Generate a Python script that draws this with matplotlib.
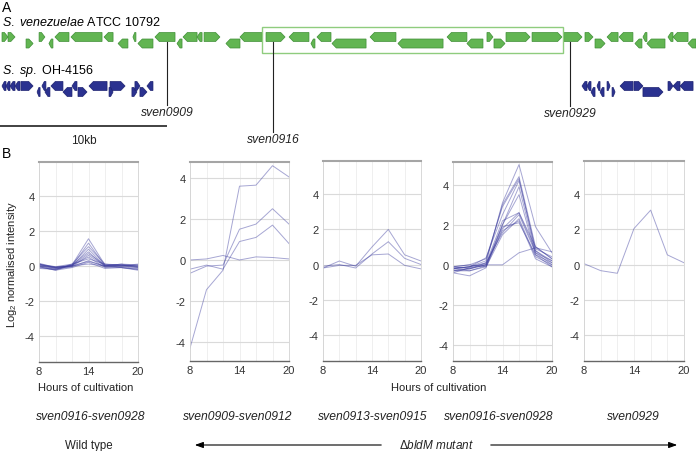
import matplotlib
matplotlib.use("Agg")
import matplotlib.pyplot as plt
from matplotlib.patches import Polygon, Rectangle
import numpy as np

plt.rcParams["font.family"] = ["Liberation Sans", "DejaVu Sans"]
plt.rcParams["mathtext.fontset"] = "custom"
plt.rcParams["mathtext.rm"] = "Liberation Sans"
plt.rcParams["mathtext.it"] = "Liberation Sans:italic"

# ---------------- data ----------------
# gene map, positions in kb
green_start = [0.12, 0.48, 1.56, 2.34, 2.93, 3.29, 4.25, 6.23, 7.07, 7.96, 8.26, 9.28, 10.60, 10.96,
               11.80, 12.22, 13.53, 14.37, 15.93, 17.31, 18.62, 18.98, 19.88, 22.16, 23.83, 26.77,
               27.96, 29.16, 29.58, 30.30, 31.86, 33.77, 35.03, 35.63, 36.35, 37.07, 38.02, 38.50,
               38.74, 40.00, 40.30, 41.20]
green_end = [0.48, 0.90, 1.98, 2.69, 3.17, 4.13, 6.11, 6.77, 7.66, 8.14, 9.16, 10.48, 10.90, 11.80,
             12.10, 13.17, 14.37, 15.69, 17.07, 18.50, 18.86, 19.82, 21.92, 23.71, 26.53, 27.96,
             28.92, 29.52, 30.24, 31.74, 33.65, 34.85, 35.51, 36.23, 37.01, 37.90, 38.44, 38.74,
             39.82, 40.30, 41.20, 41.68]
green_strand = [1, 1, 1, 1, -1, -1, -1, -1, -1, -1, -1, -1, -1, -1,
                -1, 1, -1, -1, 1, -1, -1, -1, -1, -1, -1, -1,
                -1, 1, 1, 1, 1, 1, 1, 1, -1, -1, -1, -1,
                -1, -1, -1, -1]
green_row = [0, 0, 1, 0, 1, 0, 0, 0, 1, 0, 1, 0, 1, 0,
             0, 0, 1, 0, 0, 0, 1, 0, 1, 0, 1, 0,
             1, 0, 1, 0, 0, 0, 0, 1, 0, 0, 1, 0,
             1, 0, 0, 1]

blue_start = [0.12, 0.36, 0.60, 0.90, 1.26, 2.22, 2.51, 2.69, 3.05, 3.77, 4.31, 4.67, 5.33, 6.59,
              6.53, 7.90, 8.08, 8.38, 8.80, 34.85, 35.15, 35.39, 35.75, 35.93, 36.35, 36.65,
              37.13, 37.96, 38.50, 40.00, 40.30, 40.72]
blue_end = [0.36, 0.60, 0.90, 1.20, 1.98, 2.40, 2.75, 2.99, 3.77, 4.31, 4.61, 5.21, 6.41, 7.49,
            6.77, 8.20, 8.38, 8.80, 9.16, 35.15, 35.39, 35.63, 35.93, 36.17, 36.53, 36.83,
            37.90, 38.50, 39.70, 40.30, 40.72, 41.50]
blue_strand = [-1, -1, -1, -1, 1, -1, -1, -1, -1, -1, -1, 1, -1, 1,
               1, 1, 1, 1, -1, -1, -1, -1, -1, -1, 1, 1,
               -1, 1, 1, 1, -1, -1]
blue_row = [0, 0, 0, 0, 0, 1, 0, 1, 0, 1, 0, 1, 0, 0,
            1, 1, 0, 1, 0, 0, 0, 1, 0, 1, 0, 1,
            0, 0, 1, 0, 0, 0]

marker_names = ["sven0909", "sven0916", "sven0929"]
marker_kb = [10.0, 16.35, 34.13]

# expression, log2 normalised intensity
hours = [8, 10, 12, 14, 16, 18, 20]

wt_0916_0928 = [
    [0.15, -0.10, 0.05, 1.55, 0.05, 0.05, 0.00],
    [0.10, -0.15, 0.00, 1.30, 0.00, 0.10, -0.05],
    [0.00, -0.20, 0.10, 1.10, 0.10, 0.00, 0.05],
    [0.05, -0.10, 0.00, 0.95, 0.00, 0.05, -0.10],
    [-0.05, -0.25, 0.05, 0.80, -0.05, -0.05, -0.15],
    [0.10, -0.10, 0.00, 0.70, 0.05, 0.00, 0.10],
    [0.00, -0.15, -0.05, 0.60, 0.00, -0.10, -0.20],
    [-0.10, -0.20, 0.05, 0.50, -0.10, 0.00, -0.05],
    [0.05, -0.05, 0.10, 0.40, 0.10, 0.05, 0.00],
    [-0.15, -0.20, -0.05, 0.30, -0.05, -0.10, -0.20],
    [0.00, -0.10, 0.00, 0.25, 0.00, 0.00, -0.10],
    [-0.05, -0.25, -0.10, 0.20, -0.15, -0.10, -0.25],
    [0.10, -0.05, 0.00, 0.10, 0.00, 0.10, 0.05],
]
mut_0909_0912 = [
    [-4.30, -1.45, -0.50, 3.60, 3.65, 4.60, 4.05],
    [-0.65, -0.30, -0.25, 1.50, 1.75, 2.50, 1.75],
    [-0.45, -0.25, -0.45, 0.90, 1.10, 1.70, 0.80],
    [0.00, 0.05, 0.22, 0.00, 0.15, 0.12, 0.05],
]
mut_0913_0915 = [
    [-0.20, 0.20, -0.10, 1.00, 2.00, 0.55, 0.20],
    [-0.10, 0.00, -0.20, 0.60, 1.30, 0.35, 0.00],
    [-0.20, -0.05, -0.05, 0.55, 0.60, -0.05, -0.25],
]
mut_0916_0928 = [
    [-0.30, -0.20, 0.10, 3.10, 5.00, 1.90, 0.60],
    [-0.20, -0.10, 0.20, 3.00, 4.40, 0.90, 0.30],
    [-0.10, 0.00, 0.30, 2.90, 4.30, 0.70, 0.10],
    [-0.20, -0.10, 0.35, 2.50, 4.20, 0.80, 0.40],
    [-0.10, -0.20, 0.00, 2.00, 3.90, 0.60, 0.00],
    [-0.30, -0.30, -0.10, 2.00, 3.50, 0.50, -0.10],
    [-0.40, -0.55, -0.15, 1.80, 2.60, 0.90, 0.30],
    [-0.20, -0.10, 0.10, 1.60, 2.50, 0.60, 0.20],
    [-0.10, 0.00, -0.10, 1.50, 2.30, 0.40, 0.00],
    [-0.30, -0.20, 0.00, 1.70, 2.20, 0.30, -0.10],
    [-0.20, -0.30, -0.05, 1.90, 2.10, 0.50, 0.10],
    [-0.15, -0.10, 0.05, 2.20, 2.60, 0.70, 0.20],
    [-0.40, -0.15, 0.00, 0.00, 0.60, 0.85, 0.65],
]
mut_0929 = [
    [0.05, -0.35, -0.50, 2.05, 3.10, 0.55, 0.10],
]

panel_titles = ["sven0916-sven0928", "sven0909-sven0912", "sven0913-sven0915",
                "sven0916-sven0928", "sven0929"]

# ---------------- layout ----------------
W, H = 696, 452
KB = 16.7  # px per kb


def fx(x):
    return x / W


def fy(y):
    return 1 - y / H


fig = plt.figure(figsize=(W / 100, H / 100), dpi=100)

ax_map = fig.add_axes([0, 0, 1, 1])
ax_map.set_xlim(0, W / KB)
ax_map.set_ylim(H, 0)
ax_map.axis("off")


def draw_genes(ax, starts, ends, strands, rows, y_rows, face, edge, h=9.0):
    for s, e, st, r in zip(starts, ends, strands, rows):
        yc = y_rows[r]
        head = min(0.26, (e - s) * 0.6)
        if st > 0:
            pts = [(s, yc - h / 2), (e - head, yc - h / 2), (e, yc), (e - head, yc + h / 2), (s, yc + h / 2)]
        else:
            pts = [(e, yc - h / 2), (s + head, yc - h / 2), (s, yc), (s + head, yc + h / 2), (e, yc + h / 2)]
        ax.add_patch(Polygon(pts, closed=True, facecolor=face, edgecolor=edge, lw=0.5))


draw_genes(ax_map, green_start, green_end, green_strand, green_row, [38.0, 44.5], "#62b552", "#3f8f36")
draw_genes(ax_map, blue_start, blue_end, blue_strand, blue_row, [87.0, 93.0], "#2b3290", "#1d2270")

# box around sven0916-sven0928
b0 = green_start[18] - 0.24
b1 = green_end[30] + 0.06
ax_map.add_patch(Rectangle((b0, 28), b1 - b0, 26, fill=False, edgecolor="#8fcc7e", lw=1.0))

# marker lines
label_y = [113, 140, 114]
for name, kb, ly in zip(marker_names, marker_kb, label_y):
    ax_map.plot([kb, kb], [43, ly - 7], color="#222222", lw=0.8)
    ax_map.text(kb, ly, name, ha="center", va="center", fontsize=8.7, style="italic", color="#222222")

# scale bar
ax_map.plot([0, 10], [127, 127], color="#333333", lw=1.3, solid_capstyle="butt")
ax_map.text(5, 141, "10kb", ha="center", va="center", fontsize=8.5, color="#222222")

fig.text(fx(2), fy(8), "A", fontsize=10, va="center", ha="left")
fig.text(fx(2), fy(22), r"$\mathit{S.\ venezuelae}$ ATCC 10792", fontsize=9, va="center", ha="left")
fig.text(fx(2), fy(71), r"$\mathit{S.\ sp.}$ OH-4156", fontsize=9, va="center", ha="left")
fig.text(fx(2), fy(154), "B", fontsize=10, va="center", ha="left")

# ---------------- expression panels ----------------
panel_data = [wt_0916_0928, mut_0909_0912, mut_0913_0915, mut_0916_0928, mut_0929]
panel_box = [(39, 138, 163, 363), (190, 289, 163, 362), (323, 421, 162, 362),
             (453, 552, 163, 362), (584, 684, 162, 362)]
panel_ylim = [(-5.5, 5.94), (-4.93, 4.78), (-5.5, 5.9), (-4.8, 5.13), (-5.5, 5.9)]
title_x = [91, 238, 373, 499, 633]

for data, (x0, x1, y0, y1), ylim, title, tx in zip(panel_data, panel_box, panel_ylim, panel_titles, title_x):
    ax = fig.add_axes([fx(x0), fy(y1), (x1 - x0) / W, (y1 - y0) / H])
    for row in data:
        ax.plot(hours, row, color="#3b3b9e", alpha=0.45, lw=0.7)
    ax.set_xlim(8, 20)
    ax.set_ylim(*ylim)
    ax.set_xticks([8, 14, 20])
    ax.set_xticks(hours, minor=True)
    ax.set_yticks([-4, -2, 0, 2, 4])
    ax.set_yticklabels(["-4", "-2", "0", "2", "4"])
    ax.grid(axis="x", which="both", color="#ededed", lw=0.6)
    ax.grid(axis="y", which="major", color="#dadada", lw=0.8)
    ax.set_axisbelow(True)
    ax.tick_params(which="both", length=0, labelsize=8, colors="#333333", pad=3)
    ax.spines["top"].set_color("#a5a5a5")
    ax.spines["top"].set_linewidth(1.5)
    ax.spines["bottom"].set_color("#666666")
    ax.spines["bottom"].set_linewidth(1.0)
    for side in ["left", "right"]:
        ax.spines[side].set_color("#d2d2d2")
        ax.spines[side].set_linewidth(0.6)
    fig.text(fx(tx), fy(417), title, ha="center", va="center", fontsize=8.7, style="italic", color="#222222")

fig.text(fx(12), fy(265), r"Log$_2$ normalised intensity", rotation=90, ha="center", va="center",
         fontsize=8, color="#222222")
fig.text(fx(86), fy(388), "Hours of cultivation", ha="center", va="center", fontsize=8, color="#222222")
fig.text(fx(439), fy(388), "Hours of cultivation", ha="center", va="center", fontsize=8, color="#222222")
fig.text(fx(89), fy(446), "Wild type", ha="center", va="center", fontsize=8.3, color="#222222")
fig.text(fx(436), fy(446), r"Δ$\mathit{bldM\ mutant}$", ha="center", va="center", fontsize=8.5, color="#222222")

arrow_kw = dict(arrowstyle="-|>,head_length=0.5,head_width=0.18", color="black", lw=0.8)
ax_map.annotate("", xy=(fx(192), fy(446)), xytext=(fx(384), fy(446)),
                xycoords="figure fraction", textcoords="figure fraction", arrowprops=arrow_kw)
ax_map.annotate("", xy=(fx(680), fy(446)), xytext=(fx(488), fy(446)),
                xycoords="figure fraction", textcoords="figure fraction", arrowprops=arrow_kw)

fig.savefig("out.png", dpi=100)
